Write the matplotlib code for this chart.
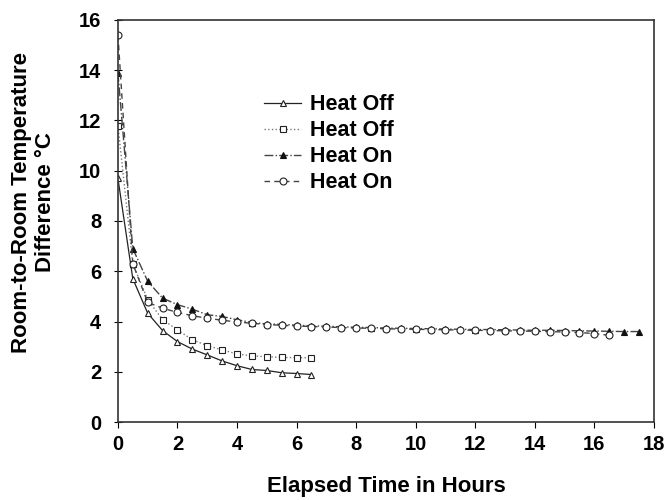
import matplotlib
matplotlib.use("Agg")
import matplotlib.pyplot as plt

plt.rcParams['font.family'] = ['Liberation Sans', 'DejaVu Sans']

t_off = [0, 0.5, 1, 1.5, 2, 2.5, 3, 3.5, 4, 4.5, 5, 5.5, 6, 6.5]
off_tri = [9.7, 5.7, 4.33, 3.64, 3.2, 2.9, 2.67, 2.43, 2.24, 2.09, 2.05, 1.96, 1.93, 1.89]
off_sq = [11.8, 6.3, 4.87, 4.07, 3.67, 3.27, 3.04, 2.87, 2.71, 2.63, 2.6, 2.57, 2.56, 2.56]

t_on1 = [0, 0.5, 1, 1.5, 2, 2.5, 3, 3.5, 4, 4.5, 5, 5.5, 6, 6.5, 7, 7.5, 8, 8.5,
         9, 9.5, 10, 10.5, 11, 11.5, 12, 12.5, 13, 13.5, 14, 14.5, 15, 15.5,
         16, 16.5, 17, 17.5]
on_tri = [13.9, 6.9, 5.6, 4.93, 4.67, 4.49, 4.27, 4.2, 4.07, 3.96, 3.9, 3.89, 3.85,
          3.83, 3.81, 3.79, 3.77, 3.76, 3.74, 3.73, 3.72, 3.71, 3.7, 3.69, 3.68,
          3.68, 3.67, 3.66, 3.65, 3.65, 3.64, 3.63, 3.62, 3.61, 3.6, 3.6]

t_on2 = [0, 0.5, 1, 1.5, 2, 2.5, 3, 3.5, 4, 4.5, 5, 5.5, 6, 6.5, 7, 7.5, 8, 8.5,
         9, 9.5, 10, 10.5, 11, 11.5, 12, 12.5, 13, 13.5, 14, 14.5, 15, 15.5,
         16, 16.5]
on_circ = [15.4, 6.3, 4.76, 4.53, 4.36, 4.23, 4.13, 4.05, 3.98, 3.93, 3.88, 3.85,
           3.82, 3.8, 3.78, 3.76, 3.74, 3.73, 3.71, 3.7, 3.69, 3.68, 3.67, 3.66,
           3.65, 3.64, 3.63, 3.62, 3.61, 3.6, 3.58, 3.56, 3.52, 3.45]

fig = plt.figure(figsize=(6.7, 5.0), dpi=100)
ax = fig.add_axes([0.176, 0.156, 0.800, 0.804])

ax.plot(t_off, off_tri, color='#222222', lw=0.9, ls='-', marker='^', ms=5,
        mfc='white', mec='#222222', mew=0.8, label='Heat Off')
ax.plot(t_off, off_sq, color='#777777', lw=1.0, ls=':', marker='s', ms=5,
        mfc='white', mec='#222222', mew=0.8, label='Heat Off')
ax.plot(t_on1, on_tri, color='#444444', lw=1.0, ls='-.', marker='^', ms=5,
        mfc='#111111', mec='#111111', mew=0.8, label='Heat On')
ax.plot(t_on2, on_circ, color='#444444', lw=1.0, ls=(0, (4, 3)), marker='o', ms=5,
        mfc='white', mec='#222222', mew=0.8, label='Heat On')

ax.set_xlim(0, 18)
ax.set_ylim(0, 16)
ax.set_xticks(range(0, 19, 2))
ax.set_yticks(range(0, 17, 2))
ax.tick_params(axis='x', direction='out', length=4, labelsize=14.5, pad=5)
ax.tick_params(axis='y', direction='inout', length=6, labelsize=14.5, pad=9)
for lab in ax.get_xticklabels() + ax.get_yticklabels():
    lab.set_fontweight('bold')
for sp in ax.spines.values():
    sp.set_color('#333333')
    sp.set_linewidth(1.2)

ax.set_xlabel('Elapsed Time in Hours', fontsize=16, fontweight='bold', labelpad=16)
ax.set_ylabel('Room-to-Room Temperature\nDifference °C', fontsize=16,
              fontweight='bold')
ax.yaxis.set_label_coords(-0.115, 0.547)

leg = ax.legend(loc='upper left', bbox_to_anchor=(0.252, 0.842), frameon=False,
                prop={'weight': 'bold', 'size': 15.5}, handlelength=1.75,
                handletextpad=0.4, labelspacing=0.23, borderpad=0)

fig.savefig('out.png', dpi=100)
